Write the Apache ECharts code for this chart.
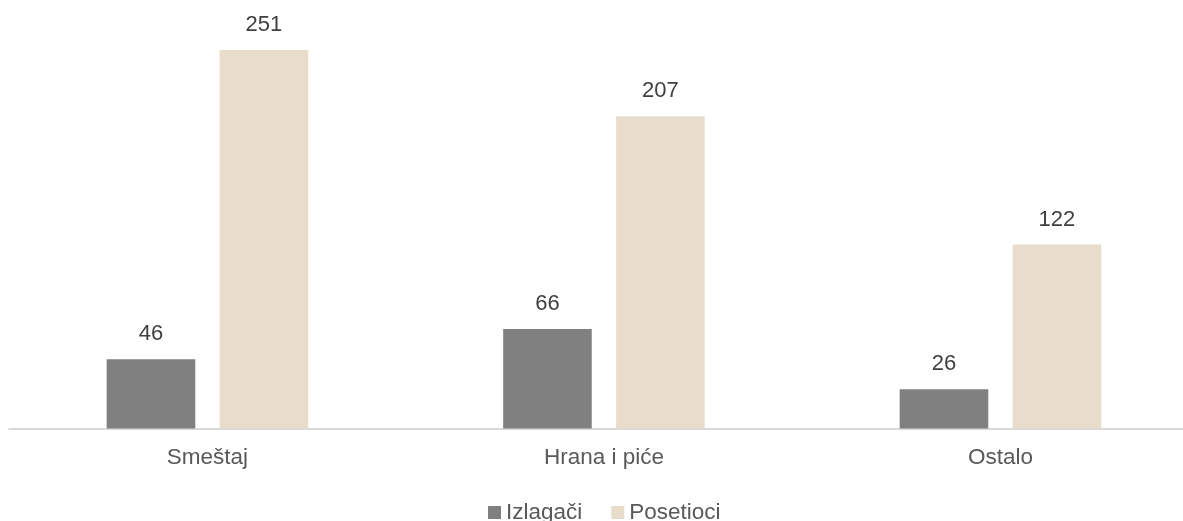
<!DOCTYPE html>
<html>
<head>
<meta charset="utf-8">
<script src="https://cdn.jsdelivr.net/npm/echarts@6/dist/echarts.min.js"></script>
<style>html,body{margin:0;padding:0;background:#fff;}#c{width:1183px;height:521px;}</style>
</head>
<body>
<div id="c"></div>
<script>
const categories = ['Smeštaj', 'Hrana i piće', 'Ostalo'];
const izlagaci = [46, 66, 26];
const posetioci = [251, 207, 122];
const seriesNames = ['Izlagači', 'Posetioci'];

const chart = echarts.init(document.getElementById('c'), null, {renderer: 'canvas'});
const labelCfg = {
  show: true, position: 'top', distance: 14,
  color: '#404040', fontSize: 22, fontFamily: 'Liberation Sans, Arial, sans-serif'
};
chart.setOption({
  animation: false,
  grid: {left: 9.2, top: 6.3, width: 1189.5, height: 422.2, containLabel: false, outerBoundsMode: 'none'},
  legend: {
    data: seriesNames, top: 496, left: 483,
    itemWidth: 13, itemHeight: 13, itemGap: 29, icon: 'rect',
    textStyle: {color: '#595959', fontSize: 22.5, fontFamily: 'Liberation Sans, Arial, sans-serif'}
  },
  xAxis: {
    type: 'category', data: categories,
    axisLine: {lineStyle: {color: '#d9d9d9', width: 2}},
    axisTick: {show: false},
    axisLabel: {color: '#595959', fontSize: 22.5, margin: 18, fontFamily: 'Liberation Sans, Arial, sans-serif'}
  },
  yAxis: {
    type: 'value', min: 0, max: 280, show: false,
    splitLine: {show: false}
  },
  series: [
    {name: seriesNames[0], type: 'bar', data: izlagaci, barWidth: 88.6, barGap: '27.5%',
     itemStyle: {color: '#808080'}, label: labelCfg},
    {name: seriesNames[1], type: 'bar', data: posetioci, barWidth: 88.6,
     itemStyle: {color: '#e8dccb'}, label: labelCfg}
  ]
});
</script>
</body>
</html>
